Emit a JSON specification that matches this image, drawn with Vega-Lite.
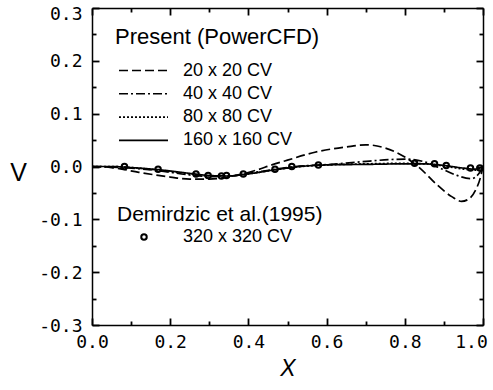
{
  "$schema": "https://vega.github.io/schema/vega-lite/v6.json",
  "width": 391,
  "height": 317,
  "autosize": {"type": "none"},
  "padding": {"left": 92, "top": 8, "right": 10, "bottom": 65},
  "background": "white",
  "config": {
    "font": "Liberation Sans",
    "view": {"stroke": null},
    "axis": {"grid": false, "domainColor": "black", "domainWidth": 1.5, "tickColor": "black", "tickWidth": 1.8, "tickOpacity": 1, "labelColor": "black", "titleColor": "black", "labelFontSize": 18, "labelFont": "DejaVu Sans Mono", "titleFont": "Liberation Sans", "titleFontWeight": "normal", "labelOverlap": false, "labelFlush": false},
    "legend": {"titleFont": "Liberation Sans", "labelFont": "Liberation Sans", "titleFontWeight": "normal", "titleColor": "black", "labelColor": "black", "titleLimit": 400, "labelLimit": 300}
  },
  "datasets": {
    "lines": [
      {"mesh": "20 x 20 CV", "x": 0, "v": 0},
      {"mesh": "20 x 20 CV", "x": 0.05, "v": -0.002},
      {"mesh": "20 x 20 CV", "x": 0.12, "v": -0.011},
      {"mesh": "20 x 20 CV", "x": 0.2, "v": -0.02},
      {"mesh": "20 x 20 CV", "x": 0.25, "v": -0.024},
      {"mesh": "20 x 20 CV", "x": 0.3, "v": -0.024},
      {"mesh": "20 x 20 CV", "x": 0.34, "v": -0.021},
      {"mesh": "20 x 20 CV", "x": 0.38, "v": -0.015},
      {"mesh": "20 x 20 CV", "x": 0.42, "v": -0.007},
      {"mesh": "20 x 20 CV", "x": 0.46, "v": 0.003},
      {"mesh": "20 x 20 CV", "x": 0.5, "v": 0.012},
      {"mesh": "20 x 20 CV", "x": 0.57, "v": 0.027},
      {"mesh": "20 x 20 CV", "x": 0.65, "v": 0.037},
      {"mesh": "20 x 20 CV", "x": 0.7, "v": 0.041},
      {"mesh": "20 x 20 CV", "x": 0.75, "v": 0.035},
      {"mesh": "20 x 20 CV", "x": 0.8, "v": 0.018},
      {"mesh": "20 x 20 CV", "x": 0.84, "v": -0.004},
      {"mesh": "20 x 20 CV", "x": 0.88, "v": -0.033},
      {"mesh": "20 x 20 CV", "x": 0.92, "v": -0.057},
      {"mesh": "20 x 20 CV", "x": 0.945, "v": -0.066},
      {"mesh": "20 x 20 CV", "x": 0.965, "v": -0.061},
      {"mesh": "20 x 20 CV", "x": 0.98, "v": -0.046},
      {"mesh": "20 x 20 CV", "x": 0.993, "v": -0.022},
      {"mesh": "20 x 20 CV", "x": 1.0, "v": 0},
      {"mesh": "40 x 40 CV", "x": 0, "v": 0},
      {"mesh": "40 x 40 CV", "x": 0.05, "v": -0.001},
      {"mesh": "40 x 40 CV", "x": 0.1, "v": -0.003},
      {"mesh": "40 x 40 CV", "x": 0.17, "v": -0.008},
      {"mesh": "40 x 40 CV", "x": 0.25, "v": -0.016},
      {"mesh": "40 x 40 CV", "x": 0.3, "v": -0.019},
      {"mesh": "40 x 40 CV", "x": 0.35, "v": -0.018},
      {"mesh": "40 x 40 CV", "x": 0.4, "v": -0.013},
      {"mesh": "40 x 40 CV", "x": 0.47, "v": -0.005},
      {"mesh": "40 x 40 CV", "x": 0.52, "v": 0.0},
      {"mesh": "40 x 40 CV", "x": 0.61, "v": 0.004},
      {"mesh": "40 x 40 CV", "x": 0.69, "v": 0.009},
      {"mesh": "40 x 40 CV", "x": 0.76, "v": 0.013},
      {"mesh": "40 x 40 CV", "x": 0.8, "v": 0.014},
      {"mesh": "40 x 40 CV", "x": 0.85, "v": 0.009},
      {"mesh": "40 x 40 CV", "x": 0.89, "v": -0.003},
      {"mesh": "40 x 40 CV", "x": 0.93, "v": -0.016},
      {"mesh": "40 x 40 CV", "x": 0.97, "v": -0.023},
      {"mesh": "40 x 40 CV", "x": 0.99, "v": -0.013},
      {"mesh": "40 x 40 CV", "x": 1.0, "v": 0},
      {"mesh": "80 x 80 CV", "x": 0, "v": 0},
      {"mesh": "80 x 80 CV", "x": 0.05, "v": 0},
      {"mesh": "80 x 80 CV", "x": 0.1, "v": -0.002},
      {"mesh": "80 x 80 CV", "x": 0.17, "v": -0.007},
      {"mesh": "80 x 80 CV", "x": 0.25, "v": -0.014},
      {"mesh": "80 x 80 CV", "x": 0.3, "v": -0.018},
      {"mesh": "80 x 80 CV", "x": 0.35, "v": -0.018},
      {"mesh": "80 x 80 CV", "x": 0.4, "v": -0.014},
      {"mesh": "80 x 80 CV", "x": 0.47, "v": -0.006},
      {"mesh": "80 x 80 CV", "x": 0.52, "v": -0.001},
      {"mesh": "80 x 80 CV", "x": 0.6, "v": 0.003},
      {"mesh": "80 x 80 CV", "x": 0.7, "v": 0.005},
      {"mesh": "80 x 80 CV", "x": 0.8, "v": 0.006},
      {"mesh": "80 x 80 CV", "x": 0.85, "v": 0.005},
      {"mesh": "80 x 80 CV", "x": 0.9, "v": 0.001},
      {"mesh": "80 x 80 CV", "x": 0.95, "v": -0.005},
      {"mesh": "80 x 80 CV", "x": 0.98, "v": -0.007},
      {"mesh": "80 x 80 CV", "x": 1.0, "v": 0},
      {"mesh": "160 x 160 CV", "x": 0, "v": 0},
      {"mesh": "160 x 160 CV", "x": 0.05, "v": 0},
      {"mesh": "160 x 160 CV", "x": 0.1, "v": -0.002},
      {"mesh": "160 x 160 CV", "x": 0.17, "v": -0.006},
      {"mesh": "160 x 160 CV", "x": 0.25, "v": -0.013},
      {"mesh": "160 x 160 CV", "x": 0.3, "v": -0.017},
      {"mesh": "160 x 160 CV", "x": 0.35, "v": -0.018},
      {"mesh": "160 x 160 CV", "x": 0.4, "v": -0.014},
      {"mesh": "160 x 160 CV", "x": 0.47, "v": -0.006},
      {"mesh": "160 x 160 CV", "x": 0.52, "v": -0.001},
      {"mesh": "160 x 160 CV", "x": 0.6, "v": 0.003},
      {"mesh": "160 x 160 CV", "x": 0.7, "v": 0.004},
      {"mesh": "160 x 160 CV", "x": 0.8, "v": 0.005},
      {"mesh": "160 x 160 CV", "x": 0.85, "v": 0.005},
      {"mesh": "160 x 160 CV", "x": 0.9, "v": 0.002},
      {"mesh": "160 x 160 CV", "x": 0.95, "v": -0.003},
      {"mesh": "160 x 160 CV", "x": 0.98, "v": -0.005},
      {"mesh": "160 x 160 CV", "x": 1.0, "v": 0}
    ],
    "points": [
      {"ref": "320 x 320 CV", "x": 0.083, "v": 0.0},
      {"ref": "320 x 320 CV", "x": 0.169, "v": -0.005},
      {"ref": "320 x 320 CV", "x": 0.266, "v": -0.014},
      {"ref": "320 x 320 CV", "x": 0.297, "v": -0.017},
      {"ref": "320 x 320 CV", "x": 0.331, "v": -0.018},
      {"ref": "320 x 320 CV", "x": 0.344, "v": -0.017},
      {"ref": "320 x 320 CV", "x": 0.387, "v": -0.014},
      {"ref": "320 x 320 CV", "x": 0.468, "v": -0.005},
      {"ref": "320 x 320 CV", "x": 0.511, "v": 0.0},
      {"ref": "320 x 320 CV", "x": 0.579, "v": 0.003},
      {"ref": "320 x 320 CV", "x": 0.825, "v": 0.006},
      {"ref": "320 x 320 CV", "x": 0.876, "v": 0.005},
      {"ref": "320 x 320 CV", "x": 0.906, "v": 0.002},
      {"ref": "320 x 320 CV", "x": 0.968, "v": -0.003},
      {"ref": "320 x 320 CV", "x": 0.992, "v": -0.003}
    ]
  },
  "layer": [
    {
      "data": {"name": "lines"},
      "mark": {"type": "line", "color": "black", "strokeWidth": 1.7, "interpolate": "monotone"},
      "encoding": {
        "x": {"field": "x", "type": "quantitative", "scale": {"domain": [0, 1], "nice": false, "zero": false},
          "axis": {"orient": "bottom", "values": [0, 0.2, 0.4, 0.6, 0.8, 1.0], "ticks": false,
            "format": ".1f",
            "labelOffset": {"condition": {"test": "datum.value == 1", "value": -12}, "value": 0},
            "labelPadding": 8, "title": "X", "titleFontStyle": "italic", "titleFontSize": 23, "titlePadding": 6}},
        "y": {"field": "v", "type": "quantitative", "scale": {"domain": [-0.3, 0.3], "nice": false, "zero": false},
          "axis": {"orient": "left", "values": [-0.3, -0.2, -0.1, 0, 0.1, 0.2, 0.3], "ticks": false,
            "labelExpr": "(datum.value < 0 ? '-' : '') + format(abs(datum.value), '.1f')",
            "labelOffset": {"condition": {"test": "datum.value > 0.25", "value": 6}, "value": 1},
            "labelPadding": 10, "title": "V", "titleAngle": 0, "titleFontSize": 25, "titleX": -74, "titleY": 164, "titleAlign": "center", "titleBaseline": "middle"}},
        "strokeDash": {"field": "mesh", "type": "nominal",
          "scale": {"domain": ["20 x 20 CV", "40 x 40 CV", "80 x 80 CV", "160 x 160 CV"], "range": [[9, 4], [9, 3, 2, 3], [2, 2], [1, 0]]},
          "legend": {"title": "Present (PowerCFD)", "orient": "none", "legendX": 23, "legendY": 19, "padding": 0,
            "titleFontSize": 22, "labelFontSize": 18, "symbolSize": 2401, "symbolStrokeWidth": 1.6, "symbolStrokeColor": "black",
            "symbolOffset": 3, "labelOffset": 14, "clipHeight": 19, "rowPadding": 4.3, "titlePadding": 12}}
      }
    },
    {
      "data": {"name": "points"},
      "mark": {"type": "point", "color": "black", "filled": false, "strokeWidth": 2, "size": 30, "opacity": 1},
      "encoding": {
        "x": {"field": "x", "type": "quantitative",
          "axis": {"orient": "top", "offset": -317, "values": [0, 0.1, 0.2, 0.3, 0.4, 0.5, 0.6, 0.7, 0.8, 0.9, 1.0], "labels": false, "title": null, "domain": false, "ticks": true,
            "tickSize": {"condition": {"test": "round(datum.value*10) % 2 != 0", "value": 4}, "value": 7}}},
        "y": {"field": "v", "type": "quantitative",
          "axis": {"orient": "right", "offset": -391, "values": [-0.3, -0.25, -0.2, -0.15, -0.1, -0.05, 0, 0.05, 0.1, 0.15, 0.2, 0.25, 0.3], "labels": false, "title": null, "domain": false, "ticks": true,
            "tickSize": {"condition": {"test": "round(datum.value*20) % 2 != 0", "value": 4}, "value": 7}}},
        "shape": {"field": "ref", "type": "nominal", "scale": {"range": ["circle"]},
          "legend": {"title": "Demirdzic et al.(1995)", "orient": "none", "legendX": 25, "legendY": 196, "padding": 0,
            "titleFontSize": 21, "labelFontSize": 18, "symbolSize": 30, "symbolStrokeWidth": 2, "symbolStrokeColor": "black", "symbolFillColor": "white",
            "symbolOffset": 18, "labelOffset": 30, "clipHeight": 20, "titlePadding": 2}}
      }
    },
    {
      "data": {"name": "points"},
      "mark": {"type": "point", "opacity": 0},
      "encoding": {
        "x": {"field": "x", "type": "quantitative",
          "axis": {"orient": "bottom", "offset": -317, "values": [0, 0.1, 0.2, 0.3, 0.4, 0.5, 0.6, 0.7, 0.8, 0.9, 1.0], "labels": false, "title": null, "domain": true, "ticks": true,
            "tickSize": {"condition": {"test": "round(datum.value*10) % 2 != 0", "value": 4}, "value": 7}}},
        "y": {"field": "v", "type": "quantitative",
          "axis": {"orient": "left", "offset": -391, "values": [-0.3, -0.25, -0.2, -0.15, -0.1, -0.05, 0, 0.05, 0.1, 0.15, 0.2, 0.25, 0.3], "labels": false, "title": null, "domain": true, "ticks": true,
            "tickSize": {"condition": {"test": "round(datum.value*20) % 2 != 0", "value": 4}, "value": 7}}}
      }
    }
  ],
  "resolve": {"axis": {"x": "independent", "y": "independent"}}
}
